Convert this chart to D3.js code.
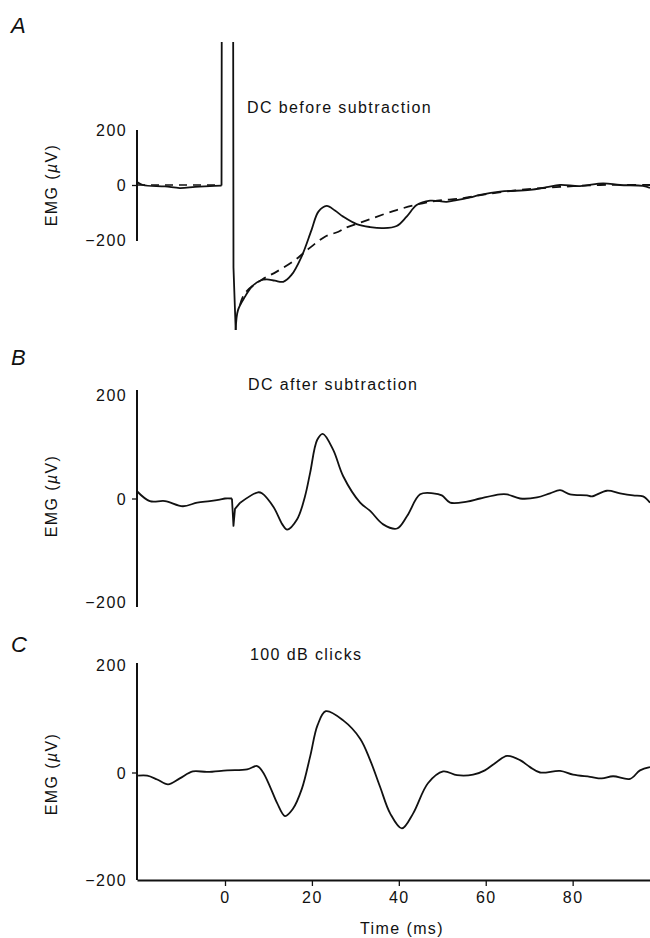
<!DOCTYPE html>
<html><head><meta charset="utf-8">
<script src="https://cdn.jsdelivr.net/npm/d3@7"></script>
<style>
body{margin:0;background:#fff;}
text{font-family:"Liberation Sans",Arial,Helvetica,sans-serif;fill:#111;}
</style></head><body>
<script>
// ---------- data ----------
const yTicks = [-200, 0, 200];
const xTicks = [0, 20, 40, 60, 80];
const titles = ["DC before subtraction", "DC after subtraction", "100 dB clicks"];
const letters = ["A", "B", "C"];

// Panel A: raw trace (off-scale stimulus artefact is clipped at the top)
const timeA = [-20.25,-18.9,-13.8,-10.4,-6.9,-3.5,-0.8,-0.72,1.85,1.95,2.46,2.99,4.6,6.14,8.05,9.6,11.5,13.4,15.3,17.6,19.9,21.5,23.4,25.3,27.2,30.3,33.4,36.4,39.5,41.8,44.1,47.2,51.0,53.3,56.4,58.7,63.3,70.2,74.0,77.1,81.7,87.0,90.9,96.2,97.8];
const emgA  = [11,0,-5,-11,-7,-4,-2,900,900,-300,-527,-455,-406,-370,-348,-343,-348,-352,-327,-261,-164,-97,-76,-93,-115,-142,-153,-157,-149,-115,-73,-57,-61,-55,-45,-36,-24,-18,-8,0,-4,6,0,-3,-11];
// Panel A: fitted DC decay (dashed)
const fitPreTime = [-20.25,-0.8];
const fitPre = [0,0];
const fitTimeA = [3.45,4.6,8.4,11.9,16.1,18.4,23.0,26.1,27.6,31.8,39.5,47.2,54.8,60.2,67.9,77.1,86.3,97.8];
const fitA     = [-436,-393,-345,-315,-273,-243,-188,-170,-157,-133,-91,-61,-48,-33,-18,-7,0,0];

// Panel B: after subtraction
const timeB = [-20.25,-17.3,-13.8,-9.7,-6.4,-3.5,-1.2,0,1.6,1.95,2.3,3.5,7.6,8.5,11.2,13.2,14.3,16.6,18.4,19.6,21.2,22.5,24.9,27.2,31.1,33.4,36.4,39.6,41.9,44.9,47.9,49.9,51.8,55.7,58.7,63.3,64.9,67.9,71.8,74.8,77.1,79.4,83.3,84.4,87.9,90.9,93.9,96.2,97.8];
const emgB  = [14,-5,-5,-15,-8,-5,-2,0,0,-53,-20,-8,12,10,-17,-50,-60,-40,4,50,113,125,94,43,-8,-24,-50,-58,-34,8,10,6,-8,-6,0,8,8,0,2,10,16,8,6,4,15,10,6,4,-8];

// Panel C: 100 dB clicks
const timeC = [-20.0,-17.9,-15.6,-13.1,-10.4,-7.4,-4.1,0.5,5.1,7.4,8.7,10.4,12.0,13.8,15.6,17.7,19.6,21.3,23.2,27.2,31.1,33.4,35.7,38.0,40.7,43.3,46.7,50.2,53.4,57.1,59.8,62.6,64.9,67.9,70.2,72.5,77.1,80.1,84.0,86.7,89.3,93.2,95.5,97.8];
const emgC  = [-6,-6,-13,-22,-11,2,1,4,6,12,1,-27,-57,-81,-68,-30,30,88,114,97,63,23,-27,-76,-104,-76,-20,2,-5,-4,4,20,31,23,10,0,3,-4,-8,-11,-7,-12,4,10];

// ---------- drawing ----------
const W = 650, H = 938;
const svg = d3.select("body").append("svg").attr("width", W).attr("height", H);

const x = d3.scaleLinear().domain([-20.25, 97.8]).range([137, 650]);

const panels = [
  {yr:[240,130], axis:[130,241], title:[247,113], letter:[11,33], label:185},
  {yr:[602,395], axis:[390,607], title:[248,390], letter:[11,365], label:496},
  {yr:[880,665], axis:[663,880], title:[250,660], letter:[11,652], label:774}
];
const traces = [
  {t:timeA, v:emgA}, {t:timeB, v:emgB}, {t:timeC, v:emgC}
];

svg.append("clipPath").attr("id","clipA").append("rect")
  .attr("x",130).attr("y",42).attr("width",530).attr("height",320);

panels.forEach((p, i) => {
  const y = d3.scaleLinear().domain([-200, 200]).range(p.yr);
  const g = svg.append("g");

  g.append("line").attr("x1",137).attr("x2",137).attr("y1",p.axis[0]).attr("y2",p.axis[1])
    .attr("stroke","#111").attr("stroke-width",2);
  const ya = g.append("g").attr("transform","translate(137,0)")
    .call(d3.axisLeft(y).tickValues(yTicks).tickSize(5).tickPadding(5)
      .tickFormat(d => d < 0 ? "\u2212" + Math.abs(d) : String(d)));
  ya.select(".domain").remove();
  ya.selectAll(".tick line").attr("stroke","#111").attr("stroke-width",1.3)
    .attr("display", d => d === 0 ? null : "none");
  ya.selectAll(".tick text").attr("font-size",16).attr("letter-spacing","1.4px")
    .attr("font-family","Liberation Sans, Arial, sans-serif").attr("fill","#111").attr("dy","0.35em");

  const lab = g.append("text").attr("transform",`translate(57,${p.label}) rotate(-90)`)
    .attr("text-anchor","middle").attr("font-size",16).attr("letter-spacing","1.4px");
  lab.append("tspan").text("EMG (");
  lab.append("tspan").attr("font-style","italic").text("\u00b5");
  lab.append("tspan").text("V)");

  g.append("text").attr("x",p.letter[0]).attr("y",p.letter[1]).attr("font-size",22)
    .attr("font-style","italic").text(letters[i]);
  g.append("text").attr("x",p.title[0]).attr("y",p.title[1]).attr("font-size",16)
    .attr("letter-spacing","1.4px").text(titles[i]);

  const smooth = d3.line().x(d=>x(d[0])).y(d=>y(d[1])).curve(d3.curveCatmullRom.alpha(0.5));
  const straight = d3.line().x(d=>x(d[0])).y(d=>y(d[1]));
  const pts = traces[i].t.map((t,j)=>[t, traces[i].v[j]]);
  const draw = (sel, d, w) => sel.append("path").attr("d", d).attr("fill","none")
    .attr("stroke","#111").attr("stroke-width", w || 1.8).attr("stroke-linejoin","round");

  if (i === 0) {
    const cg = g.append("g").attr("clip-path","url(#clipA)");
    draw(cg, smooth(fitPreTime.map((t,j)=>[t,fitPre[j]])), 1.6).attr("stroke-dasharray","8,6");
    draw(cg, smooth(fitTimeA.map((t,j)=>[t,fitA[j]])), 1.8).attr("stroke-dasharray","9,6");
    draw(cg, smooth(pts.slice(0,7)));
    draw(cg, straight(pts.slice(6,11)));
    draw(cg, smooth(pts.slice(10)));
  } else if (i === 1) {
    draw(g, smooth(pts.slice(0,9)));
    draw(g, straight(pts.slice(8,12)));
    draw(g, smooth(pts.slice(11)));
  } else {
    draw(g, smooth(pts));
    const xa = g.append("g").attr("transform","translate(0,880)")
      .call(d3.axisBottom(x).tickValues(xTicks).tickSize(6).tickSizeOuter(0).tickPadding(6));
    xa.select(".domain").attr("stroke","#111").attr("stroke-width",2);
    xa.selectAll(".tick line").attr("stroke","#111").attr("stroke-width",1.3);
    xa.selectAll(".tick text").attr("font-size",16).attr("letter-spacing","1.4px")
      .attr("font-family","Liberation Sans, Arial, sans-serif").attr("fill","#111");
    svg.append("text").attr("x",402).attr("y",934).attr("text-anchor","middle")
      .attr("font-size",16).attr("letter-spacing","1.4px").text("Time (ms)");
  }
});
</script>
</body></html>
